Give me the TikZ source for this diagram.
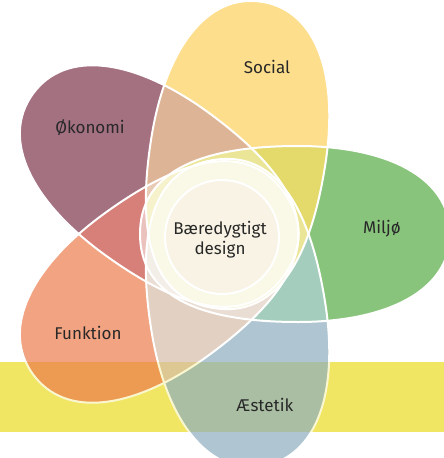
\documentclass[tikz,border=0pt]{standalone}
\usepackage{fontspec}
\setmainfont{Fira Sans}
\usepackage{tikz}
\definecolor{bandc}{RGB}{240,230,100}
\definecolor{socialc}{RGB}{252,208,91}
\definecolor{okonomic}{RGB}{126,52,76}
\definecolor{funktionc}{RGB}{236,124,76}
\definecolor{miljoc}{RGB}{86,171,68}
\definecolor{aestetikc}{RGB}{141,174,191}
\definecolor{smc}{RGB}{216,202,45}
\definecolor{soc}{RGB}{208,148,105}
\definecolor{ofc}{RGB}{198,74,65}
\definecolor{fac}{RGB}{213,188,169}
\definecolor{amc}{RGB}{126,184,162}
\definecolor{creamc}{RGB}{245,238,216}
\definecolor{textc}{RGB}{40,40,40}
\newcommand\petalshape{(-80,0) .. controls (-80,58) and (-28,88) .. (78,88) .. controls (168,88) and (230,56) .. (230,0) .. controls (230,-56) and (168,-88) .. (78,-88) .. controls (-28,-88) and (-80,-58) .. (-80,0) -- cycle}
\tikzset{petal/.style n args={3}{shift={(#1,#2)},rotate=#3},
  pm/.style={petal={220}{234}{0}},
  ps/.style={petal={226}{229}{81}},
  po/.style={petal={219}{229}{144}},
  pf/.style={petal={219}{239}{216}},
  pa/.style={petal={226}{239}{279}},
  lbl/.style={font=\fontsize{17}{20}\selectfont,text=textc,align=center}}

\begin{document}
\begin{tikzpicture}[x=1pt,y=-1pt]
\clip (0,0) rectangle (444,458);
\fill[bandc] (0,362) rectangle (444,432);
\begin{scope}[transparency group,opacity=0.7]
\foreach \p/\c in {pm/miljoc,ps/socialc,po/okonomic,pf/funktionc,pa/aestetikc}
  \fill[\c,\p] \petalshape;
\foreach \p/\q/\c in {po/pf/ofc,pa/pm/amc,ps/po/soc,pf/pa/fac,pm/ps/smc}{
  \begin{scope}
    \clip[\p] \petalshape;
    \fill[\c,\q] \petalshape;
  \end{scope}}
\foreach \p/\q in {pm/po,pm/pf,ps/pf,ps/pa,po/pa}{
  \begin{scope}
    \clip[\p] \petalshape;
    \fill[white,opacity=0.3,\q] \petalshape;
  \end{scope}}
\fill[creamc] (222,237) circle (57);
\foreach \p in {pm,ps,po,pf,pa}
  \draw[white,line width=2pt,\p] \petalshape;
\draw[white,line width=2pt] (222,237) circle (57);
\end{scope}
\node[lbl] (social) at (267,67) {Social};
\node[lbl] (okonomi) at (90,128) {Økonomi};
\node[lbl] (miljo) at (382,229) {Miljø};
\node[lbl] (funktion) at (88,333) {Funktion};
\node[lbl] (aestetik) at (265,405) {Æstetik};
\node[lbl] (center) at (220,240) {Bæredygtigt\\design};
\end{tikzpicture}
\end{document}
